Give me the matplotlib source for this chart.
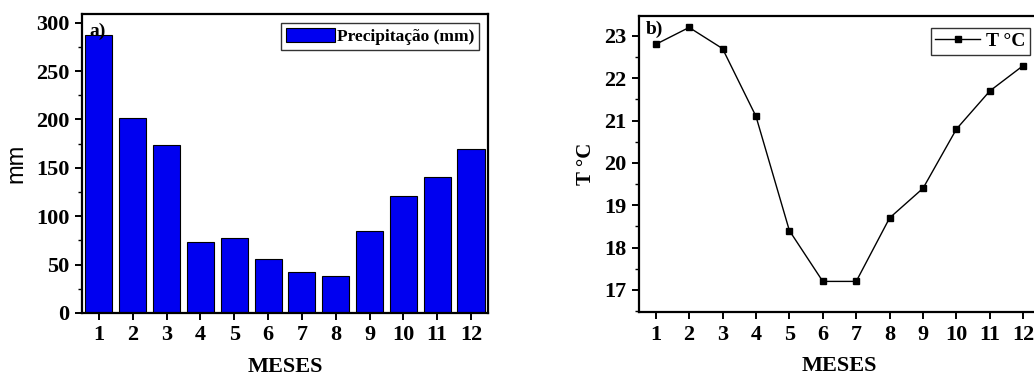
import numpy as np
import matplotlib
matplotlib.use("Agg")
import matplotlib.pyplot as plt
from matplotlib.ticker import MultipleLocator

# dados
meses = [1, 2, 3, 4, 5, 6, 7, 8, 9, 10, 11, 12]
precip = [287, 202, 174, 73, 78, 56, 42, 38, 85, 121, 141, 169]
temp = [22.8, 23.2, 22.7, 21.1, 18.4, 17.2, 17.2, 18.7, 19.4, 20.8, 21.7, 22.3]

serif = ['Liberation Serif', 'DejaVu Serif']
plt.rcParams['font.family'] = serif
plt.rcParams['font.weight'] = 'bold'

fig = plt.figure(figsize=(10.34, 3.76), dpi=100)

# ================= a) precipitação =================
ax1 = fig.add_axes([0.0793, 0.1676, 0.3926, 0.7952])
ax1.bar(meses, precip, width=0.8, color='#0000f0', edgecolor='black', lw=0.8,
        label='Precipitação (mm)')
ax1.set_xlim(0.5, 12.5)
ax1.set_ylim(0, 309)
ax1.set_xticks(meses)
ax1.yaxis.set_major_locator(MultipleLocator(50))
ax1.yaxis.set_minor_locator(MultipleLocator(25))
ax1.set_ylabel('mm', family=['Liberation Sans'], fontweight='normal', fontsize=17, labelpad=6)
ax1.set_xlabel('MESES', fontsize=16, fontweight='bold', labelpad=8)
ax1.text(0.018, 0.97, 'a)', transform=ax1.transAxes, fontsize=14, fontweight='bold',
         ha='left', va='top')
leg1 = ax1.legend(loc='upper right', fontsize=12.5, frameon=True, fancybox=False,
                  handlelength=2.8, handleheight=0.9, borderpad=0.3, borderaxespad=0.5,
                  handletextpad=0.1)
leg1.get_frame().set_edgecolor('black')
leg1.get_frame().set_linewidth(1.0)

# ================= b) temperatura =================
ax2 = fig.add_axes([0.618, 0.1694, 0.3878, 0.788])
ax2.plot(meses, temp, color='black', lw=1.0, marker='s', ms=5, label='T °C')
ax2.set_xlim(0.5, 12.5)
ax2.set_ylim(16.47, 23.47)
ax2.set_xticks(meses)
ax2.yaxis.set_major_locator(MultipleLocator(1))
ax2.yaxis.set_minor_locator(MultipleLocator(0.5))
ax2.set_ylabel('T °C', fontsize=15, fontweight='bold', labelpad=6)
ax2.set_xlabel('MESES', fontsize=16, fontweight='bold', labelpad=8)
ax2.text(0.018, 0.985, 'b)', transform=ax2.transAxes, fontsize=14, fontweight='bold',
         ha='left', va='top')
leg2 = ax2.legend(loc='upper right', fontsize=14, frameon=True, fancybox=False,
                  handlelength=2.3, borderpad=0.25, borderaxespad=0.3,
                  handletextpad=0.3, bbox_to_anchor=(0.99, 0.98))
leg2.get_frame().set_edgecolor('black')
leg2.get_frame().set_linewidth(1.0)

for ax in (ax1, ax2):
    for sp in ax.spines.values():
        sp.set_linewidth(1.6)
    ax.tick_params(which='major', direction='out', length=5, width=1.4,
                   labelsize=16, pad=4)
    ax.tick_params(which='minor', direction='out', length=3, width=1.0)
    ax.tick_params(axis='x', which='minor', bottom=False)
    ax.tick_params(top=False, right=False)
    for lab in ax.get_xticklabels() + ax.get_yticklabels():
        lab.set_fontweight('bold')

fig.savefig('out.png', dpi=100)
